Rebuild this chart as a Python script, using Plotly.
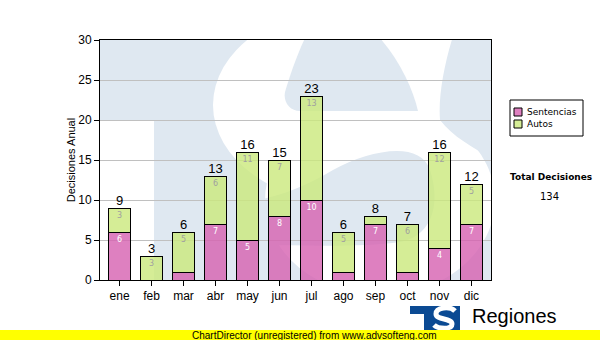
import base64
import plotly.graph_objects as go

# Monthly decisions
meses = ["ene", "feb", "mar", "abr", "may", "jun", "jul", "ago", "sep", "oct", "nov", "dic"]
sentencias = [6, 0, 1, 7, 5, 8, 10, 1, 7, 1, 4, 7]
autos = [3, 3, 5, 6, 11, 7, 13, 5, 1, 6, 12, 5]
y_ticks = [0, 5, 10, 15, 20, 25, 30]
series_names = ["Sentencias", "Autos"]

totales = [s + a for s, a in zip(sentencias, autos)]
total_decisiones = sum(totales)

W, H = 600, 340
L, R, T, B = 100, 491, 40, 280  # plot area in pixels

PINK = "rgba(214,96,176,0.8)"
GREEN = "rgba(202,232,124,0.8)"
WM_BLUE = "#dfe8f1"


def px(x):
    return (x - L) / (R - L)


def py(y):
    return (B - y) / (B - T)


def seg_label(v):
    return str(v) if v >= 2 else ""


# Watermark logo behind the plot area: light blue T and square with a white S.
# Coordinates below are page pixels, shifted into the plot-area SVG.
pw, ph = R - L, B - T
svg = f"""<svg xmlns='http://www.w3.org/2000/svg' width='{pw}' height='{ph}' viewBox='0 0 {pw} {ph}'>
<g transform='translate({-L},{-T})'>
<rect x='{L}' y='{T}' width='{pw}' height='80' fill='{WM_BLUE}'/>
<rect x='154' y='{T}' width='{R - 154}' height='{ph}' fill='{WM_BLUE}'/>
<ellipse cx='380' cy='200' rx='115' ry='95' fill='#ffffff'/>
<ellipse cx='352' cy='105' rx='139' ry='99' fill='#ffffff'/>
<path d='M 455 30 L 500 30 L 500 165 C 480 150 455 140 440 120
         C 438 95 445 60 455 30 Z' fill='{WM_BLUE}'/>
<path d='M 227 205 C 270 200 300 190 333 170 C 370 150 420 140 430 170
         C 440 200 435 235 400 242 C 360 248 300 245 227 245 Z' fill='{WM_BLUE}'/>
<path d='M 300 111 L 418 111 C 412 85 395 50 367 25 L 312 25
         C 300 45 290 75 285 92 C 283 102 290 111 300 111 Z' fill='{WM_BLUE}'/>
</g>
</svg>"""
svg_uri = "data:image/svg+xml;base64," + base64.b64encode(svg.encode()).decode()

fig = go.Figure()

fig.add_trace(go.Bar(
    x=meses, y=sentencias, name=series_names[0],
    marker=dict(color=PINK, line=dict(color="#000000", width=1)),
    text=[seg_label(v) for v in sentencias], textposition="inside",
    insidetextanchor="end", textangle=0,
    textfont=dict(family="Verdana, DejaVu Sans", size=8, color="#ffffff"),
    hoverinfo="skip",
))
fig.add_trace(go.Bar(
    x=meses, y=autos, name=series_names[1],
    marker=dict(color=GREEN, line=dict(color="#000000", width=1)),
    text=[seg_label(v) for v in autos], textposition="inside",
    insidetextanchor="end", textangle=0,
    textfont=dict(family="Verdana, DejaVu Sans", size=8, color="#a0a0a0"),
    hoverinfo="skip",
))
# Totals above each stacked bar
fig.add_trace(go.Scatter(
    x=meses, y=totales, mode="text", text=[str(t) for t in totales],
    textposition="top center", showlegend=False,
    textfont=dict(family="Arial, Liberation Sans", size=13, color="#000000"),
    hoverinfo="skip",
))

shapes = []
annotations = []


def rect(x0, y0, x1, y1, fill, line_color=None, width=0, layer="above"):
    shapes.append(dict(type="rect", xref="paper", yref="paper",
                       x0=px(x0), x1=px(x1), y0=py(y1), y1=py(y0),
                       fillcolor=fill, layer=layer,
                       line=dict(color=line_color or fill, width=width)))


def text(s, x, y, size, family="Verdana, DejaVu Sans", anchor="center", color="#000000"):
    annotations.append(dict(text=s, xref="paper", yref="paper", x=px(x), y=py(y),
                            xanchor=anchor, yanchor="middle", showarrow=False,
                            font=dict(family=family, size=size, color=color)))


# Legend box
rect(510, 100, 583, 136, "#ffffff", "#000000", 1)
for i, (name, col) in enumerate(zip(series_names, [PINK, GREEN])):
    cy = 112 + 12 * i
    rect(514, cy - 4, 522, cy + 4, col, "#000000", 1)
    text(name, 525, cy, 9, anchor="left")

# Total box on the right
text("<b>Total Decisiones</b>", 551, 177, 9)
text(str(total_decisiones), 549, 196, 10)

# Small logo in the bottom-right corner
blue = "#0b4a93"
rect(410, 306, 460, 330, blue)
rect(410, 314, 424, 330, "#ffffff")
shapes.append(dict(type="path", xref="paper", yref="paper", layer="above",
                   path=(f"M {px(455)} {py(311)} C {px(450)} {py(306)} {px(436)} {py(307)} {px(436)} {py(314)} "
                         f"C {px(436)} {py(320)} {px(452)} {py(318)} {px(452)} {py(324)} "
                         f"C {px(452)} {py(330)} {px(438)} {py(329)} {px(434)} {py(325)}"),
                   line=dict(color="#ffffff", width=5)))
text("Regiones", 470, 316, 20, family="Arial, Liberation Sans", anchor="left")

# Yellow footer strip
rect(0, 330, W, H, "#ffff00")
text("ChartDirector (unregistered) from www.advsofteng.com", 190, 335, 10,
     family="Arial, Liberation Sans", anchor="left")

fig.update_layout(
    width=W, height=H,
    margin=dict(l=L, r=W - R, t=T, b=H - B, autoexpand=False),
    paper_bgcolor="#ffffff", plot_bgcolor="rgba(0,0,0,0)",
    barmode="stack", bargap=0.3,
    font=dict(family="Arial, Liberation Sans", size=12, color="#000000"),
    showlegend=False,
    shapes=shapes, annotations=annotations,
    images=[dict(source=svg_uri, xref="paper", yref="paper", x=0, y=1,
                 sizex=1, sizey=1, xanchor="left", yanchor="top",
                 sizing="stretch", layer="below")],
)
fig.update_xaxes(showline=True, linecolor="#000000", linewidth=1, mirror=True,
                 ticks="outside", ticklen=5, tickcolor="#000000",
                 tickfont=dict(size=12), showgrid=False, automargin=False)
fig.update_yaxes(range=[0, 30], tickvals=y_ticks, showline=True, linecolor="#000000",
                 linewidth=1, mirror=True, ticks="outside", ticklen=5,
                 tickcolor="#000000", showgrid=True, gridcolor="#c0c0c0",
                 tickfont=dict(size=12), zeroline=False, automargin=False,
                 title=dict(text="Decisiones Anual", standoff=0,
                            font=dict(family="Arial, Liberation Sans", size=11)))

fig.write_html("out.html")
